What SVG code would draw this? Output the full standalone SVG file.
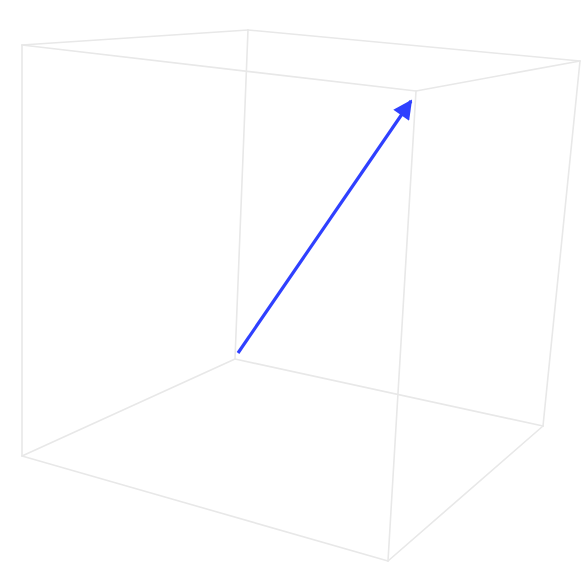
<svg xmlns="http://www.w3.org/2000/svg" width="583" height="567" viewBox="0 0 583 567">
<style>
.edge{stroke:#e8e8e8;stroke-width:1.6;fill:none;stroke-linecap:round}
.vec{stroke:#2f40ff;stroke-width:3.2;fill:none}
</style>
<defs>
<marker id="ah" viewBox="0 0 10 10" refX="9" refY="5" markerWidth="9" markerHeight="6" markerUnits="strokeWidth" orient="auto">
<path d="M0,0 L10,5 L0,10 Z" fill="#2f40ff"/>
</marker>
</defs>
<rect width="583" height="567" fill="#ffffff"/>
<g id="box">
<line class="edge" x1="248" y1="30" x2="235" y2="359"/>
<line class="edge" x1="235" y1="359" x2="22" y2="456"/>
<line class="edge" x1="235" y1="359" x2="543" y2="426"/>
<line class="edge" x1="22" y1="45" x2="248" y2="30"/>
<line class="edge" x1="248" y1="30" x2="580" y2="61"/>
<line class="edge" x1="580" y1="61" x2="416" y2="91"/>
<line class="edge" x1="416" y1="91" x2="22" y2="45"/>
<line class="edge" x1="22" y1="45" x2="22" y2="456"/>
<line class="edge" x1="580" y1="61" x2="543" y2="426"/>
<line class="edge" x1="416" y1="91" x2="388" y2="561"/>
<line class="edge" x1="22" y1="456" x2="388" y2="561"/>
<line class="edge" x1="388" y1="561" x2="543" y2="426"/>
</g>
<g id="connectors">
<line class="vec" x1="238" y1="353" x2="411" y2="101" marker-end="url(#ah)"/>
</g>
</svg>
